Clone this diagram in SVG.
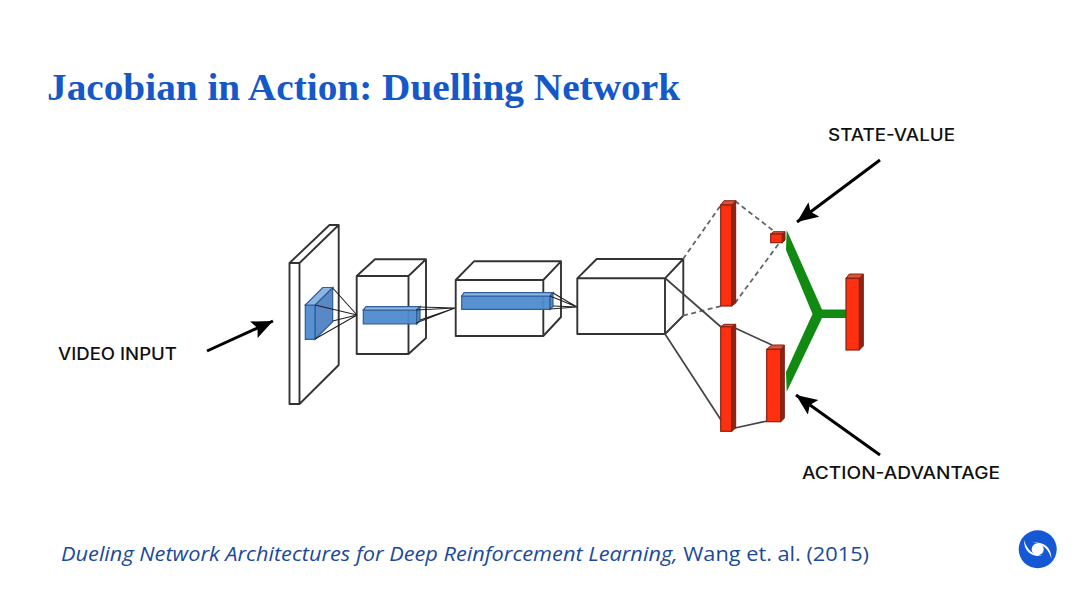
<svg xmlns="http://www.w3.org/2000/svg" width="1080" height="608" viewBox="0 0 1080 608">
<style>
.w{fill:none;stroke:#333;stroke-width:1.9;stroke-linejoin:round}
.t{stroke:#222;stroke-width:1.1;fill:none}
.d{stroke:#5f666c;stroke-width:1.8;stroke-dasharray:5 3.5;fill:none}
.s{stroke:#444;stroke-width:1.7;fill:none}
.rf{fill:#ff3010;stroke:#8a2010;stroke-width:1.2}
.rs{fill:#8f2412;stroke:#7a1c0e;stroke-width:1}
.rt{fill:#d9543a;stroke:#8a2010;stroke-width:1}
.bf{fill:#4f8bd0;fill-opacity:.95;stroke:#2f5f96;stroke-width:1.2}
.bs{fill:#4f82c2;fill-opacity:.95;stroke:#2f5f96;stroke-width:1.2}
.bt{fill:#8db4e2;stroke:#2f5f96;stroke-width:1.2}
.g{fill:#108a10}
.a{stroke:#000;stroke-width:3;fill:none;marker-end:url(#ah)}
.l{font-family:"Inter","Noto Sans","Liberation Sans",sans-serif;font-size:17px;font-weight:500;fill:#111}
</style>
<defs><marker id="ah" markerUnits="userSpaceOnUse" markerWidth="22" markerHeight="20" refX="21" refY="9" orient="auto"><path d="M0 0L21 9L0 18L4 9Z" fill="#000"/></marker></defs>
<rect width="1080" height="608" fill="#fff"/>
<text id="title" x="47" y="100" textLength="633" lengthAdjust="spacingAndGlyphs" style="font-family:'Liberation Serif',serif;font-size:38px;font-weight:700;fill:#1558c8">Jacobian in Action: Duelling Network</text>
<g id="video-plate"><path class="w" d="M289.5 263H299.5V404H289.5Z M289.5 263L329.5 225H338.7L299.5 263 M338.700 225V365L299.5 404"/></g>
<g id="box-1"><path class="w" d="M356.7 276H408.5V354H356.7Z M356.7 276L375 259.3H426L408.5 276 M426 259.3V338L408.5 354"/></g>
<g id="box-2"><path class="w" d="M455.7 280H543.3V336H455.7Z M455.7 280L474 261.3H561L543.3 280 M561 261.3V317L543.3 336"/></g>
<g id="box-3"><path class="w" d="M577.3 278.3H665V334H577.3Z M577.3 278.3L596.7 259H683.3L665 278.3 M683.3 259V315.7L665 334"/></g>
<g id="blue-1"><path class="bs" d="M315 305L332.700 287.5V321.700L315 339.300Z"/><path class="bf" d="M305.3 305H315V339.300H305.3Z"/><path class="bt" d="M305.3 305L322.700 287.5H332.700L315 305Z"/></g>
<g id="blue-2"><path class="bf" d="M363.3 310H416.700V324H363.3Z"/><path class="bt" d="M363.3 310L366 306.700H420L416.700 310Z"/><path class="bs" d="M416.700 310L420 306.700V320.500L416.700 324Z"/></g>
<g id="blue-3"><path class="bf" d="M461.700 296H550V309.300H461.700Z"/><path class="bt" d="M461.700 296L464 292.700H553L550 296Z"/><path class="bs" d="M550 296L553 292.700V306.500L550 309.300Z"/></g>
<g id="connectors">
<path class="t" d="M332.700 288L357 315M332.700 321L357 315M315 305L357 315M315 339L357 315"/>
<path class="t" d="M420 307L455 308M420 320L455 308M416 310L455 308M416 323L455 308"/>
<path class="t" d="M553 293L577 307M553 306L577 307M550 296L577 307M550 309L577 307"/>
<path class="d" d="M683 259L721 205M683 315.700L721 306M735 201L775 232M735 303L780 242"/>
<path class="s" d="M665 278L721 327M665 334L683 316M665 334L721 420M735 328L772 345M735 428L767 421"/>
<polygon class="g" points="786.700,230 822,309.500 846,309.500 846,318 822,318 786.700,391.700 786,372 812.500,314 786,250"/>
<path class="a" d="M880 160L797 222"/>
<path class="a" d="M880 455L796 395"/>
<path class="a" d="M207 351L273 321"/>
</g>
<g id="red-1"><path class="rs" d="M731.700 205L735.700 200.700V303L731.700 306Z"/><path class="rt" d="M720.700 205L724 200.700H735.700L731.700 205Z"/><rect class="rf" x="720.700" y="205" width="11" height="101"/></g>
<g id="red-2"><path class="rs" d="M731.700 326.700L735.700 324.300V428L731.700 431.300Z"/><path class="rt" d="M720.700 326.700L724 324.300H735.700L731.700 326.700Z"/><rect class="rf" x="720.700" y="326.700" width="11" height="104.600"/></g>
<g id="red-3"><path class="rs" d="M780.700 349.300L784.300 345V418.300L780.700 421.700Z"/><path class="rt" d="M766.700 349.300L771.700 345H784.300L780.700 349.300Z"/><rect class="rf" x="766.700" y="349.300" width="14" height="72.400"/></g>
<g id="red-4"><path class="rs" d="M859.300 278.300L863.300 274V346L859.300 350Z"/><path class="rt" d="M846 278.300L849.300 274H863.300L859.300 278.300Z"/><rect class="rf" x="846" y="278.300" width="13.300" height="71.700"/></g>
<g id="red-small"><path class="rs" d="M782.300 234L785 231.700V240L782.300 242.700Z"/><path class="rt" d="M770.700 234L773.300 231.700H785L782.300 234Z"/><rect class="rf" x="770.700" y="234" width="11.600" height="8.700"/></g>
<text id="label-state" class="l" x="828" y="140.500" textLength="127" lengthAdjust="spacingAndGlyphs">STATE-VALUE</text>
<text id="label-action" class="l" x="802" y="478.500" textLength="198" lengthAdjust="spacingAndGlyphs">ACTION-ADVANTAGE</text>
<text id="label-video" class="l" x="58" y="360" textLength="119" lengthAdjust="spacingAndGlyphs">VIDEO INPUT</text>
<text id="citation" x="61" y="561" textLength="808" lengthAdjust="spacingAndGlyphs" style="font-family:'Open Sans','Noto Sans',sans-serif;font-size:20px;fill:#1a4a9c"><tspan font-style="italic">Dueling Network Architectures for Deep Reinforcement Learning,</tspan> Wang et. al. (2015)</text>
<g id="logo"><circle cx="1037.700" cy="549.300" r="19" fill="#1558d6"/><circle cx="1037.700" cy="549.300" r="6" fill="#fff"/><path d="M1024 540C1024 552 1032 557 1043 556C1033 555 1027 550 1024 540Z M1051.400 558.600C1051.400 546.600 1043.400 541.600 1032.400 542.600C1042.400 543.600 1048.400 548.600 1051.400 558.600Z" fill="#fff"/></g>
</svg>
